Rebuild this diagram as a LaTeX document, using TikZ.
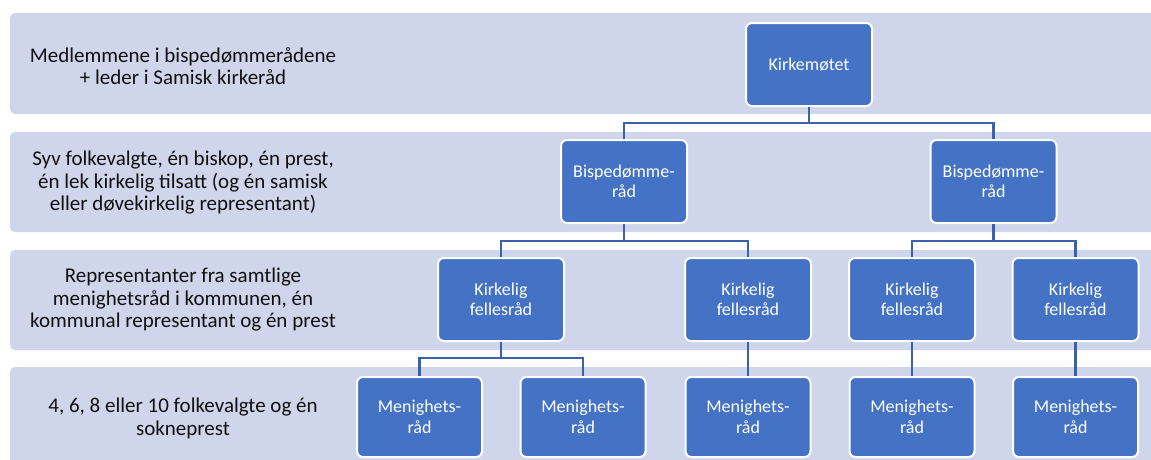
\documentclass[tikz,border=0pt]{standalone}
\usepackage{fontspec}
\setmainfont{Carlito}
\definecolor{bandcol}{HTML}{CFD5EA}
\definecolor{boxcol}{HTML}{4472C4}
\definecolor{linecol}{HTML}{3B61AB}
\definecolor{txtcol}{HTML}{111111}
\tikzset{
  band/.style={fill=bandcol, draw=none, rounded corners=5pt},
  bandtext/.style={align=center, text=txtcol, font=\fontsize{21}{22.5}\selectfont, inner sep=0pt},
  orgbox/.style={fill=boxcol, draw=white, line width=2pt, rounded corners=6pt,
    minimum width=126pt, minimum height=83pt, align=center, text=white,
    font=\fontsize{18}{20.5}\selectfont, inner sep=0pt},
  lowbox/.style={orgbox, minimum width=125pt, minimum height=80pt},
  conn/.style={draw=linecol, line width=2.8pt}
}
\begin{document}
\begin{tikzpicture}[x=1pt,y=-1pt]
\useasboundingbox (0,0) rectangle (1151,459);
\clip (0,0) rectangle (1151,459);
\fill[white] (0,0) rectangle (1151,459);
% bands
\draw[band] (10,13) rectangle (1170,114);
\draw[band] (10,132) rectangle (1170,232);
\draw[band] (10,250) rectangle (1170,350);
\draw[band] (10,367) rectangle (1170,467);
% band texts
\node[bandtext] (t1) at (183,66) {Medlemmene i bispedømmerådene\\+ leder i Samisk kirkeråd};
\node[bandtext] (t2) at (183,183) {Syv folkevalgte, én biskop, én prest,\\én lek kirkelig tilsatt (og én samisk\\eller døvekirkelig representant)};
\node[bandtext] (t3) at (183,300) {Representanter fra samtlige\\menighetsråd i kommunen, én\\kommunal representant og én prest};
\node[bandtext] (t4) at (183,418.5) {4, 6, 8 eller 10 folkevalgte og én\\sokneprest};
% boxes
\node[orgbox] (kirk) at (809,64.5) {Kirkemøtet};
\node[orgbox] (bisp1) at (624,181.5) {Bispedømme-\\råd};
\node[orgbox] (bisp2) at (993.5,181.5) {Bispedømme-\\råd};
\node[orgbox] (kf1) at (501,299.5) {Kirkelig\\fellesråd};
\node[orgbox] (kf2) at (748,299.5) {Kirkelig\\fellesråd};
\node[orgbox] (kf3) at (912,299.5) {Kirkelig\\fellesråd};
\node[orgbox] (kf4) at (1075.5,299.5) {Kirkelig\\fellesråd};
\node[lowbox] (mr1) at (419.5,417) {Menighets-\\råd};
\node[lowbox] (mr2) at (583,417) {Menighets-\\råd};
\node[lowbox] (mr3) at (748,417) {Menighets-\\råd};
\node[lowbox] (mr4) at (912,417) {Menighets-\\råd};
\node[lowbox] (mr5) at (1075.5,417) {Menighets-\\råd};
% connector elbows
\coordinate (e1) at (0,123);
\coordinate (e2) at (0,241);
\coordinate (e3) at (0,358);
% connectors
\draw[conn] (kirk.south) -- (kirk.south |- e1);
\draw[conn] (bisp1.north) |- (kirk.south |- e1) -| (bisp2.north);
\draw[conn] (bisp1.south) -- (bisp1.south |- e2);
\draw[conn] (kf1.north) |- (bisp1.south |- e2) -| (kf2.north);
\draw[conn] (bisp2.south) -- (bisp2.south |- e2);
\draw[conn] (kf3.north) |- (bisp2.south |- e2) -| (kf4.north);
\draw[conn] (kf1.south) -- (kf1.south |- e3);
\draw[conn] (mr1.north) |- (kf1.south |- e3) -| (mr2.north);
\draw[conn] (kf2.south) -- (mr3.north);
\draw[conn] (kf3.south) -- (mr4.north);
\draw[conn] (kf4.south) -- (mr5.north);
\end{tikzpicture}
\end{document}
